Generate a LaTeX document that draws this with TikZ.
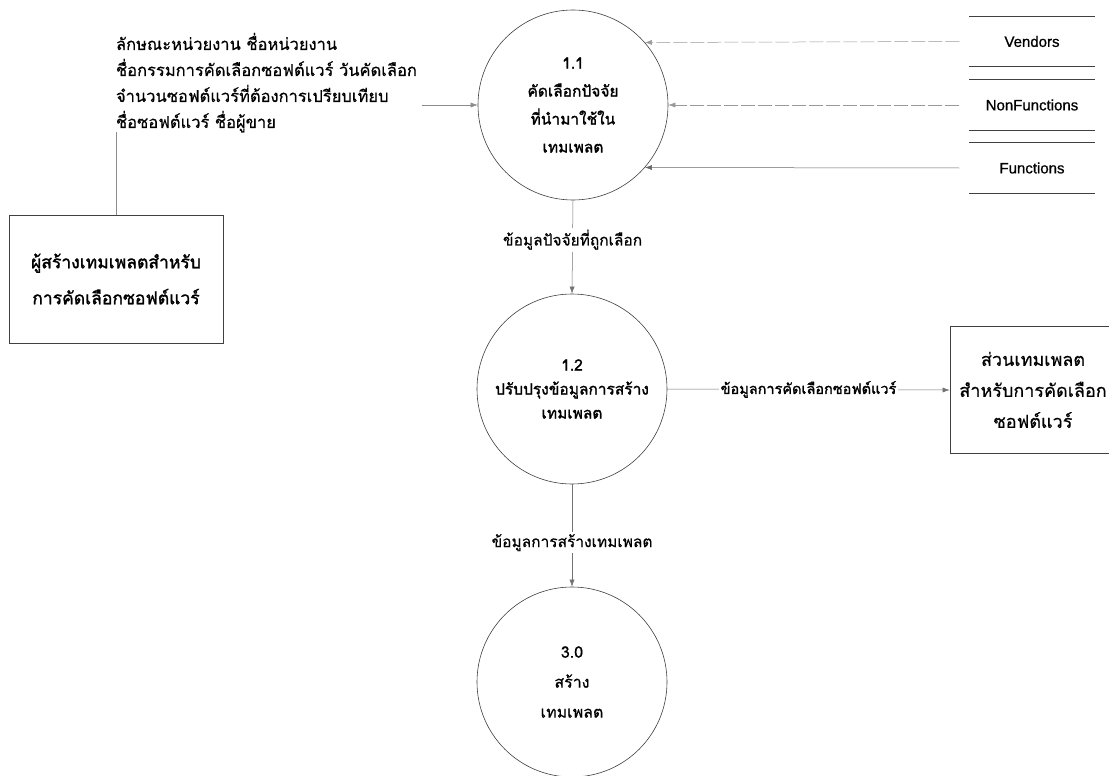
\documentclass[tikz,border=0pt]{standalone}
\usepackage{fontspec}
\setmainfont[Script=Thai, FakeBold=0.5]{Loma}
\newfontfamily\thb[Script=Thai, FakeBold=1.6]{Loma}
\newfontfamily\latinf[FakeBold=0.8]{Liberation Sans}
\usetikzlibrary{arrows.meta}
\tikzset{
  proc/.style={circle, draw=black!75, line width=0.6pt, minimum size=190pt, inner sep=0pt, align=center},
  ext/.style={rectangle, draw=black!75, line width=0.7pt, align=center, inner sep=0pt},
  flow/.style={draw=black!55, line width=0.5pt, -{Latex[length=7pt,width=5pt]}},
  lbl/.style={fill=white, inner sep=2pt, font=\fontsize{15.5}{26}\selectfont, align=left},
  store/.style={minimum width=125pt, minimum height=50pt, inner sep=0pt, font=\latinf\fontsize{15}{17}\selectfont},
  sline/.style={draw=black!75, line width=0.7pt}
}
\begin{document}
\begin{tikzpicture}[x=1pt,y=-1pt]
\clip (0,0) rectangle (1109,776);
\fill[white] (0,0) rectangle (1109,776);

% processes
\node[proc, font=\thb\fontsize{15.5}{28}\selectfont] (p11) at (573,105) {1.1\\คัดเลือกปัจจัย\\ที่นำมาใช้ใน\\เทมเพลต};
\node[proc, font=\thb\fontsize{15.5}{24}\selectfont] (p12) at (572,389) {1.2\\ปรับปรุงข้อมูลการสร้าง\\เทมเพลต};
\node[proc, font=\fontsize{16}{30}\selectfont] (p30) at (572,682) {3.0\\สร้าง\\เทมเพลต};

% external entities
\node[ext, minimum width=214pt, minimum height=128pt, font=\thb\fontsize{17.5}{36}\selectfont] (creator) at (116,279) {ผู้สร้างเทมเพลตสำหรับ\\การคัดเลือกซอฟต์แวร์};
\node[ext, minimum width=166pt, minimum height=127pt, font=\fontsize{18}{31}\selectfont] (tmpl) at (1033,390) {ส่วนเทมเพลต\\สำหรับการคัดเลือก\\ซอฟต์แวร์};

% data stores
\node[store] (vend) at (1032,41.5) {Vendors};
\node[store] (nonf) at (1032,105) {NonFunctions};
\node[store] (func) at (1032,168) {Functions};
\foreach \s in {vend,nonf,func}{
  \draw[sline] (\s.north west) -- (\s.north east);
  \draw[sline] (\s.south west) -- (\s.south east);
}

% flows from data stores
\draw[flow, dash pattern=on 14pt off 3pt, draw=black!40] ([xshift=-10pt]vend.west) -- (p11.41.5);
\draw[flow, dash pattern=on 14pt off 3pt, draw=black!40] ([xshift=-10pt]nonf.west) -- (p11.east);
\draw[flow, draw=black!60] ([xshift=-10pt]func.west) -- (p11.-41.5);

% flow from creator to 1.1
\draw[flow, draw=black!45] (creator.north) |- (p11.west);
\node[lbl, anchor=north west, text width=306pt, inner sep=0pt, outer sep=0pt, font=\fontsize{16.5}{26}\selectfont] (inlbl) at (116,33)
  {ลักษณะหน่วยงาน ชื่อหน่วยงาน\\ชื่อกรรมการคัดเลือกซอฟต์แวร์ วันคัดเลือก\\จำนวนซอฟต์แวร์ที่ต้องการเปรียบเทียบ\\ชื่อซอฟต์แวร์ ชื่อผู้ขาย};

% internal flows
\draw[flow] (p11.south) -- node[lbl, pos=0.42] {ข้อมูลปัจจัยที่ถูกเลือก} (p12.north);
\draw[flow] (p12.east) -- node[lbl, font=\thb\fontsize{14.5}{26}\selectfont] {ข้อมูลการคัดเลือกซอฟต์แวร์} (tmpl.west);
\draw[flow] (p12.south) -- node[lbl, pos=0.57] {ข้อมูลการสร้างเทมเพลต} (p30.north);
\end{tikzpicture}
\end{document}
